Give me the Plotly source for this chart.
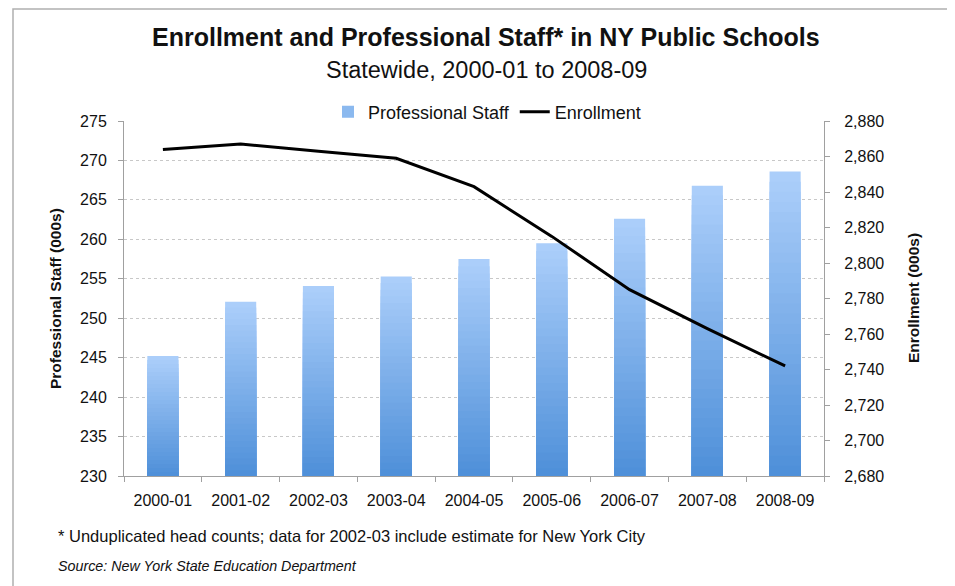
import plotly.graph_objects as go

# ---- data ----
years = ["2000-01", "2001-02", "2002-03", "2003-04", "2004-05",
         "2005-06", "2006-07", "2007-08", "2008-09"]
staff = [245.2, 252.1, 254.1, 255.3, 257.5, 259.5, 262.6, 266.8, 268.6]
enrollment = [2864, 2867, 2863, 2859, 2843, 2815, 2785, 2763, 2742]

staff_ticks = list(range(230, 276, 5))
enroll_ticks = list(range(2680, 2881, 20))

# ---- styling ----
FONT = "Liberation Sans, Arial, Helvetica, sans-serif"
TOP_RGB = (171, 206, 250)
BOT_RGB = (76, 142, 216)
N_LAYERS = 30
AXIS_MIN = staff_ticks[0]


def mix(t):
    r = [round(BOT_RGB[k] + (TOP_RGB[k] - BOT_RGB[k]) * t) for k in range(3)]
    return f"rgb({r[0]},{r[1]},{r[2]})"


fig = go.Figure()

# gradient bars: overlaid layers of decreasing height, darker toward the base
for i in range(N_LAYERS):
    frac = 1 - i / N_LAYERS
    tops = [AXIS_MIN + (v - AXIS_MIN) * frac for v in staff]
    fig.add_trace(go.Bar(
        x=years, y=tops,
        width=0.4,
        marker=dict(color=mix(frac), line=dict(width=0)),
        name="Professional Staff",
        showlegend=(i == N_LAYERS // 3),
        legendrank=1,
        hoverinfo="skip" if i else "y",
        yaxis="y",
    ))

fig.add_trace(go.Scatter(
    x=years, y=enrollment, mode="lines",
    line=dict(color="black", width=3),
    name="Enrollment", legendrank=2, yaxis="y2",
))

OFF = 8  # page body margin
W, H = 955, 586
# target plot area in screenshot pixels
PX0, PX1, PY0, PY1 = 124, 824, 121, 476
L, T = PX0 - OFF, PY0 - OFF
R = W - (PX1 - OFF)
B = H - (PY1 - OFF)
pw, ph = PX1 - PX0, PY1 - PY0


def px(x):
    return (x - PX0) / pw


def py(y):
    return (PY1 - y) / ph


TICKFONT = dict(size=16, color="#111")

fig.update_layout(
    width=W, height=H,
    margin=dict(l=L, r=R, t=T, b=B),
    paper_bgcolor="white", plot_bgcolor="white",
    barmode="overlay",
    font=dict(family=FONT, size=16, color="#111"),
    showlegend=True,
    legend=dict(orientation="h", x=px(487), xanchor="center",
                y=py(112), yanchor="middle",
                bgcolor="white", font=dict(size=18, color="#111"),
                traceorder="normal", tracegroupgap=0),
    xaxis=dict(
        type="category",
        showline=True, linecolor="#a0a0a0", linewidth=1,
        ticks="outside", tickson="boundaries", ticklen=5,
        tickcolor="#a0a0a0", showgrid=False,
        tickfont=TICKFONT, ticklabelstandoff=10,
        range=[-0.5, len(years) - 0.5],
    ),
    yaxis=dict(
        range=[staff_ticks[0], staff_ticks[-1]],
        tickvals=staff_ticks,
        showline=True, linecolor="#a0a0a0", linewidth=1,
        ticks="outside", ticklen=5, tickcolor="#a0a0a0",
        showgrid=True, gridcolor="#c8c8c8", griddash="dot", gridwidth=1,
        tickfont=TICKFONT, ticklabelstandoff=8,
        zeroline=False,
    ),
    yaxis2=dict(
        range=[enroll_ticks[0], enroll_ticks[-1]],
        tickvals=enroll_ticks, tickformat=",",
        overlaying="y", side="right",
        showline=True, linecolor="#a0a0a0", linewidth=1,
        ticks="outside", ticklen=5, tickcolor="#a0a0a0",
        showgrid=False, zeroline=False,
        tickfont=TICKFONT, ticklabelstandoff=11,
    ),
    shapes=[dict(type="rect", xref="paper", yref="paper",
                 x0=px(13), x1=px(1200), y0=py(9), y1=py(900),
                 line=dict(color="#b0b0b0", width=1.5),
                 fillcolor="rgba(0,0,0,0)", layer="below")],
    annotations=[
        dict(text="<b>Enrollment and Professional Staff* in NY Public Schools</b>",
             x=px(486), y=py(37), xref="paper", yref="paper",
             showarrow=False, font=dict(size=25, color="#111"),
             xanchor="center", yanchor="middle"),
        dict(text="Statewide, 2000-01 to 2008-09",
             x=px(486), y=py(70), xref="paper", yref="paper",
             showarrow=False, font=dict(size=23.5, color="#111"),
             xanchor="center", yanchor="middle"),
        dict(text="<b>Professional Staff (000s)</b>", textangle=-90,
             x=px(55), y=py(299), xref="paper", yref="paper",
             showarrow=False, font=dict(size=15.5, color="#111"),
             xanchor="center", yanchor="middle"),
        dict(text="<b>Enrollment (000s)</b>", textangle=-90,
             x=px(913), y=py(298), xref="paper", yref="paper",
             showarrow=False, font=dict(size=15.5, color="#111"),
             xanchor="center", yanchor="middle"),
        dict(text="* Unduplicated head counts; data for 2002-03 include estimate for New York City",
             x=px(56), y=py(536), xref="paper", yref="paper",
             showarrow=False, font=dict(size=16.5, color="#111"),
             xanchor="left", yanchor="middle"),
        dict(text="<i>Source: New York State Education Department</i>",
             x=px(56), y=py(566), xref="paper", yref="paper",
             showarrow=False, font=dict(size=14.3, color="#111"),
             xanchor="left", yanchor="middle"),
    ],
)

fig.write_html("out.html")
